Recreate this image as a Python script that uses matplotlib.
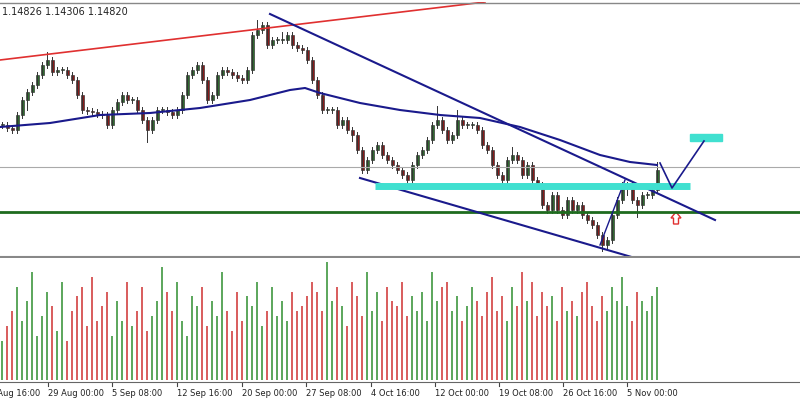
import matplotlib.pyplot as plt
from matplotlib.patches import Rectangle, FancyArrow

# close prices, one candle every 5 px of the reference (pixel-read, converted to price)
close_px = [125, 128, 130, 115, 100, 92, 85, 75, 65, 60, 72, 70, 70, 75, 80, 95, 110, 111, 112, 114,
            115, 125, 110, 102, 95, 100, 100, 110, 120, 130, 120, 110, 110, 112, 115, 110, 95, 75, 70, 65,
            80, 100, 95, 75, 70, 72, 75, 78, 80, 70, 35, 30, 25, 45, 40, 40, 40, 35, 45, 48,
            50, 60, 80, 95, 110, 110, 110, 125, 120, 130, 135, 150, 170, 160, 150, 145, 155, 160, 165, 170,
            175, 180, 165, 155, 150, 140, 125, 120, 130, 140, 135, 120, 125, 125, 125, 130, 145, 150, 165, 175,
            180, 160, 155, 160, 175, 165, 180, 185, 205, 210, 195, 210, 215, 200, 210, 205, 215, 220, 225, 235,
            245, 240, 215, 200, 185, 185, 200, 205, 195, 195, 190, 170]
volume = [40, 55, 70, 95, 60, 80, 110, 45, 65, 90, 75, 50, 100, 40, 70, 85, 95, 55, 105, 60,
          75, 90, 45, 80, 60, 100, 55, 70, 95, 50, 65, 80, 115, 90, 70, 100, 60, 45, 85, 75,
          95, 55, 80, 65, 110, 70, 50, 90, 60, 85, 75, 100, 55, 70, 95, 65, 80, 60, 90, 70,
          75, 85, 100, 90, 70, 120, 80, 95, 75, 55, 100, 85, 65, 110, 70, 90, 60, 95, 80, 75,
          100, 65, 85, 70, 90, 60, 110, 80, 95, 100, 70, 85, 60, 75, 95, 80, 65, 90, 105, 70,
          85, 60, 95, 75, 110, 80, 100, 65, 90, 75, 85, 60, 95, 70, 80, 65, 90, 100, 75, 60,
          85, 70, 95, 80, 105, 75, 60, 90, 80, 70, 85, 95]
wick_up = {9: 8, 51: 10, 56: 8, 87: 14, 91: 10, 102: 8, 131: 8}
wick_dn = {5: 10, 29: 12, 70: 6, 120: 6, 125: 10, 127: 12}

dates = ["18 Aug 16:00", "29 Aug 00:00", "5 Sep 08:00", "12 Sep 16:00", "20 Sep 00:00", "27 Sep 08:00",
         "4 Oct 16:00", "12 Oct 00:00", "19 Oct 08:00", "26 Oct 16:00", "5 Nov 00:00"]
date_px = [-16, 48, 112, 177, 242, 306, 371, 435, 499, 563, 627]

ma_px = [(0, 127), (50, 123), (100, 115), (150, 113), (200, 108), (250, 100), (290, 90), (305, 88),
         (320, 93), (360, 103), (400, 110), (440, 115), (480, 118), (520, 127), (560, 140), (600, 155),
         (630, 162), (657, 165)]


def price(y):
    return 1.1700 - y * 0.0001


W, H = 800, 400
fig = plt.figure(figsize=(8, 4), dpi=100)
ax = fig.add_axes([0, 1 - 258 / H, 1, 256 / H])
vax = fig.add_axes([0, 1 - 380 / H, 1, 118 / H])
for a in (ax, vax):
    a.set_xlim(0, W)
    a.axis("off")
ax.set_ylim(price(258), price(2))
vax.set_ylim(0, 120)

closes = [price(y) for y in close_px]
for i, c in enumerate(closes):
    x = 5 * i + 2
    o = closes[i - 1] if i > 0 else c
    hi = max(o, c) + 0.0001 * wick_up.get(i, 3)
    lo = min(o, c) - 0.0001 * wick_dn.get(i, 3)
    up = c >= o
    col = "#2e6b2e" if up else "#8b1a1a"
    ax.plot([x, x], [lo, hi], color="#333333", lw=0.7)
    ax.add_patch(Rectangle((x - 1.5, min(o, c)), 3, max(abs(c - o), 0.00005),
                           facecolor=col, edgecolor="#222222", lw=0.4))
    vax.bar(x, volume[i], width=1.3, color="#5fa85f" if up else "#d96060")

# reference lines
ax.plot([0, W], [price(167)] * 2, color="#aaaaaa", lw=0.8)
ax.plot([0, W], [price(212)] * 2, color="#1e6b1e", lw=2)
ax.plot([0, 485], [price(60), price(2)], color="#e03030", lw=1.2)
ax.plot([270, 715], [price(14), price(220)], color="#1a1a8c", lw=1.5)
ax.plot([360, 635], [price(178), price(258)], color="#1a1a8c", lw=1.5)
ax.plot([600, 625], [price(245), price(180)], color="#1a1a8c", lw=1)
ax.plot([x for x, _ in ma_px], [price(y) for _, y in ma_px], color="#1a1a8c", lw=1.5)
ax.plot([375, 690], [price(186)] * 2, color="#40e0d0", lw=5, solid_capstyle="butt")
ax.add_patch(Rectangle((690, price(141)), 32, 0.0007, color="#40e0d0"))
ax.plot([660, 672, 704], [price(163), price(188), price(141)], color="#1a1a8c", lw=1.2)
ax.add_patch(FancyArrow(676, price(224), 0, 0.0006, width=5, head_width=10, head_length=0.0006,
                        length_includes_head=False, facecolor="white", edgecolor="#e03030", lw=1))
ax.plot([0, W], [price(257)] * 2, color="#888888", lw=1.5)
ax.plot([0, W], [price(3)] * 2, color="#888888", lw=1)

fig.text(0.002, 1 - 12 / H, "1.14826 1.14306 1.14820", fontsize=7, va="center", color="#222222")
for lab, px in zip(dates, date_px):
    fig.text(px / W, 1 - 393 / H, lab, fontsize=6, va="center", ha="left", color="#222222")
    fig.add_artist(plt.Line2D([px / W] * 2, [1 - 383 / H, 1 - 386 / H], color="#444444", lw=0.8))
fig.add_artist(plt.Line2D([0, 1], [1 - 382 / H] * 2, color="#666666", lw=0.8))

fig.savefig("out.png", dpi=100, facecolor="white")
